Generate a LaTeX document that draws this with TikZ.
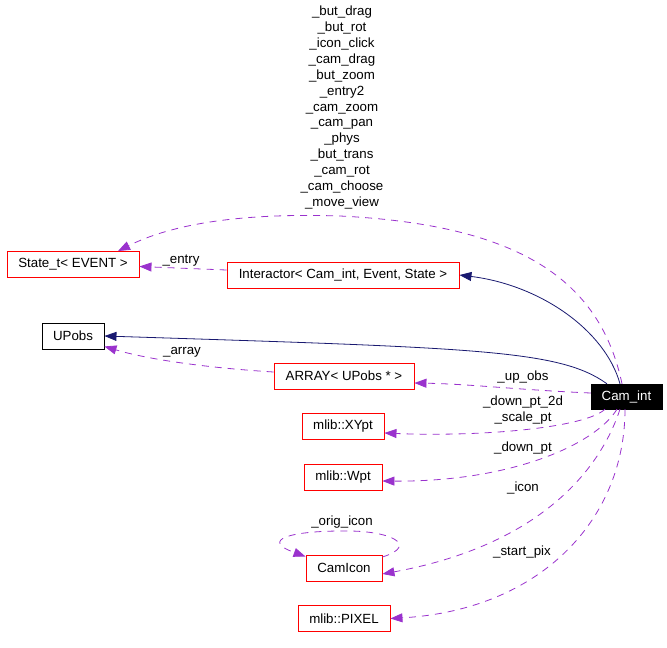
\documentclass[tikz,border=0pt]{standalone}
\usepackage{fontspec}
\setmainfont{Liberation Sans}
\usetikzlibrary{arrows.meta}
\begin{document}
\begin{tikzpicture}[x=1pt,y=-1pt,
  every node/.style={font=\fontsize{13.3}{15.9}\selectfont, inner sep=0pt},
  cls/.style={draw=red, line width=0.9pt, minimum height=26pt, fill=white},
  clsb/.style={draw=black, line width=0.9pt, minimum height=26pt, fill=white},
  inh/.style={draw={rgb,255:red,25;green,25;blue,112}, line width=0.8pt, -{Triangle[length=12pt,width=9pt]}},
  use/.style={draw={rgb,255:red,154;green,50;blue,205}, line width=0.8pt, dash pattern=on 7pt off 6pt, -{Triangle[length=12pt,width=9pt]}},
  lbl/.style={align=center}
]
\useasboundingbox (0,0) rectangle (667,648);

% nodes
\node[cls, minimum width=132pt] (state) at (73,264.5) {State\_t< EVENT >};
\node[cls, minimum width=232pt] (inter) at (343,275) {Interactor< Cam\_int, Event, State >};
\node[clsb, minimum width=62pt] (upobs) at (73,336) {UPobs};
\node[cls, minimum width=140pt] (array) at (344,376) {ARRAY< UPobs * >};
\node[draw=black, fill=black, text=white, minimum width=71pt, minimum height=25pt] (cam) at (626.5,396.5) {Cam\_int};
\node[cls, minimum width=82pt] (xypt) at (343,426.5) {mlib::XYpt};
\node[cls, minimum width=78pt] (wpt) at (343,477.5) {mlib::Wpt};
\node[cls, minimum width=76pt] (camicon) at (344,568) {CamIcon};
\node[cls, minimum width=92pt] (pixel) at (344,618.5) {mlib::PIXEL};

% labels
\node[lbl] (lstate) at (342,107.5) {\_but\_drag\\\_but\_rot\\\_icon\_click\\\_cam\_drag\\\_but\_zoom\\\_entry2\\\_cam\_zoom\\\_cam\_pan\\\_phys\\\_but\_trans\\\_cam\_rot\\\_cam\_choose\\\_move\_view};
\node (lentry) at (181,261) {\_entry};
\node (larray) at (182,352) {\_array};
\node (lupobs) at (523,377) {\_up\_obs};
\node[lbl] (lxypt) at (523,410.5) {\_down\_pt\_2d\\\_scale\_pt};
\node (lwpt) at (523,448) {\_down\_pt};
\node (licon) at (523,488) {\_icon};
\node (lorig) at (342,522) {\_orig\_icon};
\node (lpix) at (522,552) {\_start\_pix};

% inheritance
\draw[inh] ([xshift=-6.5pt]cam.north) .. controls (605,330) and (540,285) .. (inter.east);
\draw[inh] ([xshift=-19.5pt]cam.north) .. controls (560,350) and (480,348) .. (upobs.east);

% usage
\draw[use] ([xshift=-4.5pt]cam.north) .. controls (600,280) and (520,225) .. (340,216)
  .. controls (220,212) and (160,230) .. ([xshift=45pt]state.north);
\draw[use] ([yshift=5pt]inter.west) -- ([yshift=-2pt]state.east);
\draw[use] ([yshift=4pt]array.west) .. controls (210,368) and (150,360) .. ([yshift=3pt]upobs.south east);
\draw[use] ([yshift=3.5pt]cam.west) .. controls (520,390) and (470,384) .. ([yshift=-7pt]array.east);
\draw[use] ([xshift=-21.5pt]cam.south) .. controls (585,428) and (480,437) .. ([yshift=-6.5pt]xypt.east);
\draw[use] ([xshift=-9.5pt]cam.south) .. controls (595,445) and (510,482) .. ([yshift=-3.5pt]wpt.east);
\draw[use] ([xshift=-6.5pt]cam.south) .. controls (600,470) and (540,545) .. ([yshift=-6pt]camicon.east);
\draw[use] ([xshift=-1.5pt]cam.south) .. controls (625,520) and (540,610) .. (pixel.east);
\draw[use] ([yshift=11pt]camicon.east) .. controls (420,545) and (390,530) .. (342,531)
  .. controls (290,531) and (260,540) .. ([yshift=-2pt]camicon.north west);
\end{tikzpicture}
\end{document}
